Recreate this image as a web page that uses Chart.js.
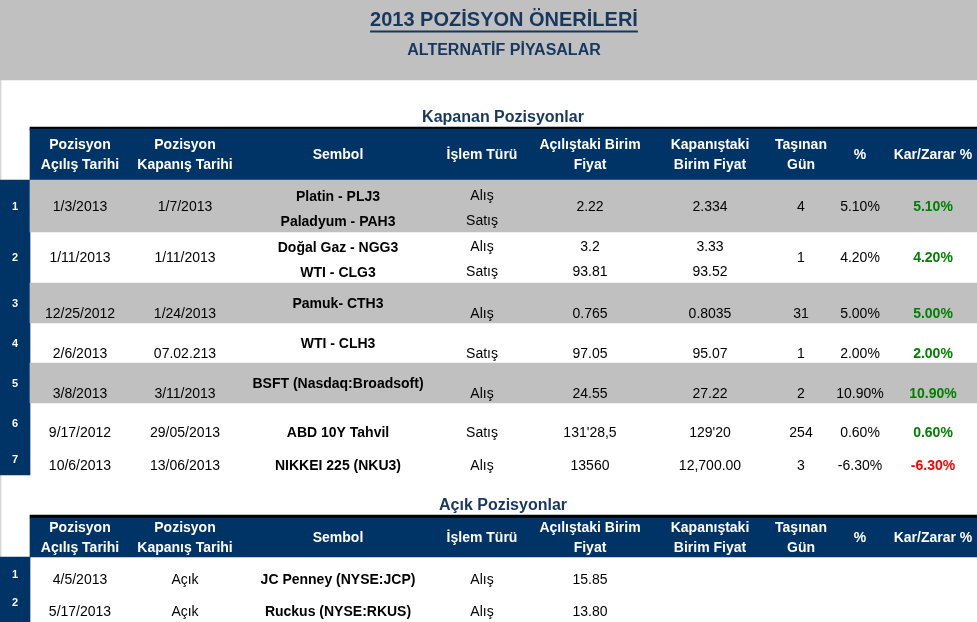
<!DOCTYPE html>
<html lang="tr">
<head>
    <meta charset="UTF-8">
    <title>2013 Pozisyon Önerileri</title>
    <script src="https://cdn.jsdelivr.net/npm/chart.js"></script>
    <style>
        body {
            margin: 0;
            background-color: white;
            overflow: hidden;
        }
        canvas {
            display: block;
        }
    </style>
</head>
<body>
    <canvas id="tableChart" width="977" height="622"></canvas>

    <script>
        // --- table content ---
        const headers = [
            ['Pozisyon', 'Açılış Tarihi'],
            ['Pozisyon', 'Kapanış Tarihi'],
            ['Sembol'],
            ['İşlem Türü'],
            ['Açılıştaki Birim', 'Fiyat'],
            ['Kapanıştaki', 'Birim Fiyat'],
            ['Taşınan', 'Gün'],
            ['%'],
            ['Kar/Zarar %']
        ];

        // closed positions
        const openDates = ['1/3/2013', '1/11/2013', '12/25/2012', '2/6/2013', '3/8/2013', '9/17/2012', '10/6/2013'];
        const closeDates = ['1/7/2013', '1/11/2013', '1/24/2013', '07.02.213', '3/11/2013', '29/05/2013', '13/06/2013'];
        const symbols = [
            ['Platin - PLJ3', 'Paladyum - PAH3'],
            ['Doğal Gaz - NGG3', 'WTI - CLG3'],
            ['Pamuk- CTH3'],
            ['WTI - CLH3'],
            ['BSFT (Nasdaq:Broadsoft)'],
            ['ABD 10Y Tahvil'],
            ['NIKKEI 225 (NKU3)']
        ];
        const sides = [['Alış', 'Satış'], ['Alış', 'Satış'], ['Alış'], ['Satış'], ['Alış'], ['Satış'], ['Alış']];
        const openPrices = [['2.22'], ['3.2', '93.81'], ['0.765'], ['97.05'], ['24.55'], ["131'28,5"], ['13560']];
        const closePrices = [['2.334'], ['3.33', '93.52'], ['0.8035'], ['95.07'], ['27.22'], ["129'20"], ['12,700.00']];
        const daysHeld = [4, 1, 31, 1, 2, 254, 3];
        const pctChange = [5.10, 4.20, 5.00, 2.00, 10.90, 0.60, -6.30];
        const profitLoss = [5.10, 4.20, 5.00, 2.00, 10.90, 0.60, -6.30];

        // open positions
        const openPosDates = ['4/5/2013', '5/17/2013'];
        const openPosStatus = ['Açık', 'Açık'];
        const openPosSymbols = ['JC Penney (NYSE:JCP)', 'Ruckus (NYSE:RKUS)'];
        const openPosSides = ['Alış', 'Alış'];
        const openPosPrices = ['15.85', '13.80'];

        // --- layout (page units, same as pixels) ---
        const colX = [15, 80, 185, 338, 482, 590, 710, 801, 860, 933];
        const closedNumY = [207, 258, 304, 344, 384, 424, 460];
        const closedMainY = [207, 258, 314, 354, 394, 433, 466];
        const twoLineY = [[196, 221], [247, 272]];
        const closedSymY = [null, null, 304, 344, 384, 433, 466];
        const openNumY = [575, 603];
        const openMainY = [580, 612];

        const NAVY = '#003366';
        const TITLE = '#17375E';
        const GRAY = '#C0C0C0';
        const FONT = '"Liberation Sans", Arial, sans-serif';

        // background blocks: centre x, width, vertical spans
        const bgBlocks = {
            band: { color: GRAY, width: 977, cx: 488.5, spans: [[0, 80]] },
            topEdge: { color: '#DADADA', width: 977, cx: 488.5, spans: [[0, 1.5]] },
            rows: { color: GRAY, width: 947, cx: 503.5, spans: [[180, 232], [283, 323], [363, 403]] },
            heads: { color: NAVY, width: 947, cx: 503.5, spans: [[129, 180], [518, 557]] },
            rules: { color: '#000000', width: 947, cx: 503.5, spans: [[127, 130], [515, 518]] },
            index: { color: NAVY, width: 30, cx: 15, spans: [[180, 475], [557, 622]] },
            frame: { color: '#D4D4D4', width: 1, cx: 0.5, spans: [[0, 622]] }
        };

        const datasets = Object.keys(bgBlocks).map(key => {
            const b = bgBlocks[key];
            return {
                label: key,
                data: b.spans.map(s => ({ x: b.cx, y: s })),
                backgroundColor: b.color,
                borderWidth: 0,
                barThickness: b.width,
                stack: 'bg',
                grouped: true
            };
        });

        const tableText = {
            id: 'tableText',
            afterDatasetsDraw(chart) {
                const { ctx, scales: { x, y } } = chart;
                const put = (text, cx, cy, font, color) => {
                    ctx.font = font;
                    ctx.fillStyle = color;
                    ctx.textAlign = 'center';
                    ctx.textBaseline = 'middle';
                    ctx.fillText(text, x.getPixelForValue(cx), y.getPixelForValue(cy));
                };
                const regular = '14px ' + FONT;
                const bold = 'bold 14px ' + FONT;
                ctx.save();

                // titles
                put('2013 POZİSYON ÖNERİLERİ', 504, 20.5, 'bold 20px ' + FONT, TITLE);
                ctx.font = 'bold 20px ' + FONT;
                const tw = ctx.measureText('2013 POZİSYON ÖNERİLERİ').width;
                ctx.fillRect(x.getPixelForValue(504) - tw / 2, y.getPixelForValue(30.5), tw, 2);
                put('ALTERNATİF PİYASALAR', 504, 51, 'bold 16px ' + FONT, TITLE);
                put('Kapanan Pozisyonlar', 503, 118, 'bold 16px ' + FONT, TITLE);
                put('Açık Pozisyonlar', 503, 506, 'bold 16px ' + FONT, TITLE);

                // header rows
                [155, 538].forEach(hy => {
                    headers.forEach((lines, c) => {
                        if (lines.length === 2) {
                            put(lines[0], colX[c + 1], hy - 10, bold, 'white');
                            put(lines[1], colX[c + 1], hy + 10, bold, 'white');
                        } else {
                            put(lines[0], colX[c + 1], hy, bold, 'white');
                        }
                    });
                });

                // closed positions
                openDates.forEach((d, i) => {
                    const my = closedMainY[i];
                    const multi = (vals, cx, font) => {
                        if (vals.length === 2) {
                            put(vals[0], cx, twoLineY[i][0], font, '#000');
                            put(vals[1], cx, twoLineY[i][1], font, '#000');
                        } else {
                            put(vals[0], cx, my, font, '#000');
                        }
                    };
                    put(String(i + 1), colX[0], closedNumY[i], 'bold 11px ' + FONT, 'white');
                    put(d, colX[1], my, regular, '#000');
                    put(closeDates[i], colX[2], my, regular, '#000');
                    if (symbols[i].length === 2) {
                        put(symbols[i][0], colX[3], twoLineY[i][0] + 1, bold, '#000');
                        put(symbols[i][1], colX[3], twoLineY[i][1] + 1, bold, '#000');
                    } else {
                        put(symbols[i][0], colX[3], closedSymY[i], bold, '#000');
                    }
                    multi(sides[i], colX[4], regular);
                    multi(openPrices[i], colX[5], regular);
                    multi(closePrices[i], colX[6], regular);
                    put(String(daysHeld[i]), colX[7], my, regular, '#000');
                    put(pctChange[i].toFixed(2) + '%', colX[8], my, regular, '#000');
                    put(profitLoss[i].toFixed(2) + '%', colX[9], my, bold, profitLoss[i] < 0 ? '#FF0000' : '#008000');
                });

                // open positions
                openPosDates.forEach((d, i) => {
                    const my = openMainY[i];
                    put(String(i + 1), colX[0], openNumY[i], 'bold 11px ' + FONT, 'white');
                    put(d, colX[1], my, regular, '#000');
                    put(openPosStatus[i], colX[2], my, regular, '#000');
                    put(openPosSymbols[i], colX[3], my, bold, '#000');
                    put(openPosSides[i], colX[4], my, regular, '#000');
                    put(openPosPrices[i], colX[5], my, regular, '#000');
                });
                ctx.restore();
            }
        };

        new Chart(document.getElementById('tableChart'), {
            type: 'bar',
            data: { datasets: datasets },
            options: {
                responsive: false,
                animation: false,
                layout: { padding: 0 },
                scales: {
                    x: { type: 'linear', min: 0, max: 977, display: false, offset: false },
                    y: { type: 'linear', min: 0, max: 622, reverse: true, display: false, stacked: false }
                },
                plugins: {
                    legend: { display: false },
                    tooltip: { enabled: false }
                }
            },
            plugins: [tableText]
        });
    </script>
</body>
</html>
